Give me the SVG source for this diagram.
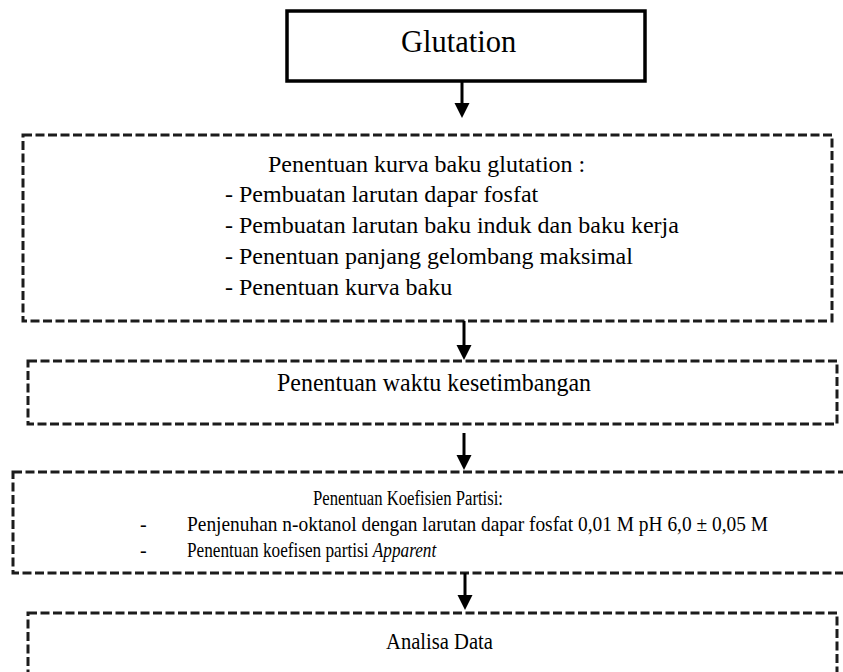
<svg xmlns="http://www.w3.org/2000/svg" width="843" height="672" viewBox="0 0 843 672">
  <style>
    .solid { fill: #ffffff; stroke: #000000; stroke-width: 3.5; }
    .dash { fill: #ffffff; stroke: #1c1c1c; stroke-width: 3; stroke-dasharray: 9 3.5; }
    .t { font-family: "Liberation Serif", "Times New Roman", serif; fill: #000000; }
    .wire { stroke: #000000; stroke-width: 3; fill: none; }
    .head { fill: #000000; }
  </style>

  <!-- start node -->
  <g id="glutation">
    <rect class="solid" x="287" y="11" width="358" height="70"/>
    <text class="t" x="401" y="52" font-size="30.5">Glutation</text>
  </g>

  <!-- standard curve steps -->
  <g id="kurva-baku">
    <rect class="dash" x="23" y="135" width="809" height="186"/>
    <text class="t" font-size="24">
      <tspan x="268" y="172">Penentuan kurva baku glutation :</tspan>
      <tspan x="225" y="202">- Pembuatan larutan dapar fosfat</tspan>
      <tspan x="225" y="233">- Pembuatan larutan baku induk dan baku kerja</tspan>
      <tspan x="225" y="264">- Penentuan panjang gelombang maksimal</tspan>
      <tspan x="225" y="295">- Penentuan kurva baku</tspan>
    </text>
  </g>

  <!-- equilibrium time -->
  <g id="waktu-kesetimbangan">
    <rect class="dash" x="28" y="361" width="809" height="63"/>
    <text class="t" x="277" y="391" font-size="26" textLength="314" lengthAdjust="spacingAndGlyphs">Penentuan waktu kesetimbangan</text>
  </g>

  <!-- partition coefficient -->
  <g id="koefisien-partisi">
    <rect class="dash" x="13" y="472" width="840" height="101"/>
    <text class="t" x="313" y="505" font-size="20" textLength="190" lengthAdjust="spacingAndGlyphs">Penentuan Koefisien Partisi:</text>
    <text class="t" x="140" y="531" font-size="20">-</text>
    <text class="t" x="187" y="531" font-size="21" textLength="581" lengthAdjust="spacingAndGlyphs">Penjenuhan n-oktanol dengan larutan dapar fosfat 0,01 M pH 6,0 ± 0,05 M</text>
    <text class="t" x="140" y="557" font-size="20">-</text>
    <!-- condensed line with the italic term kept in the same run -->
    <text class="t" transform="scale(0.82,1)" x="228" y="557" font-size="21">Penentuan koefisen partisi <tspan font-style="italic">Apparent</tspan></text>
  </g>

  <!-- data analysis -->
  <g id="analisa-data">
    <rect class="dash" x="28" y="613" width="809" height="80"/>
    <text class="t" x="386" y="649" font-size="24" textLength="107" lengthAdjust="spacingAndGlyphs">Analisa Data</text>
  </g>

  <!-- connectors -->
  <g id="connectors">
    <line class="wire" x1="462" y1="81" x2="462" y2="104"/>
    <polygon class="head" points="454.5,103 469.5,103 462,118"/>
    <line class="wire" x1="464" y1="321" x2="464" y2="346"/>
    <polygon class="head" points="456.5,345 471.5,345 464,360"/>
    <line class="wire" x1="464" y1="433" x2="464" y2="456"/>
    <polygon class="head" points="456.5,455 471.5,455 464,470"/>
    <line class="wire" x1="465" y1="573" x2="465" y2="596"/>
    <polygon class="head" points="457.5,595 472.5,595 465,610"/>
  </g>
</svg>
